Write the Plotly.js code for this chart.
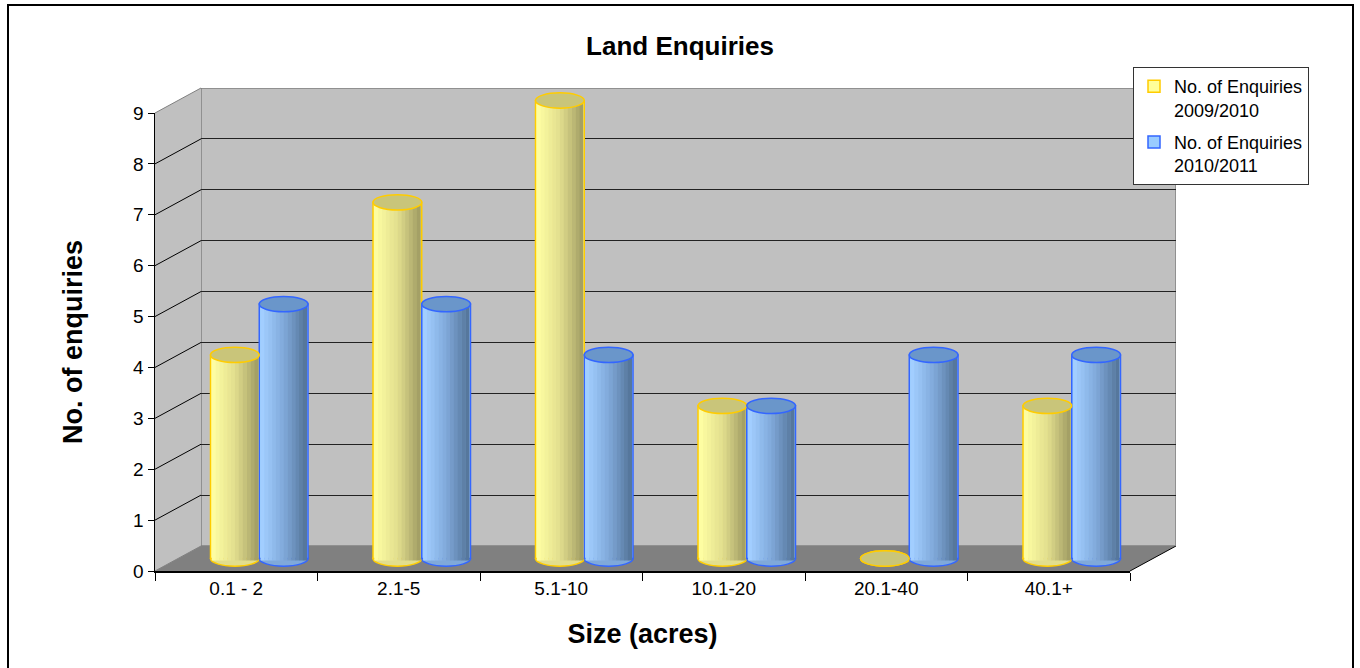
<!DOCTYPE html>
<html>
<head>
<meta charset="utf-8">
<script src="https://cdn.plot.ly/plotly-3.0.1.min.js"></script>
<style>
  html, body { margin: 0; padding: 0; background: #fff; }
  #chart { width: 1360px; height: 668px; }
</style>
</head>
<body>
<div id="chart"></div>
<script>
const sizes = ['0.1 - 2', '2.1-5', '5.1-10', '10.1-20', '20.1-40', '40.1+']
const enq0910 = [4, 7, 9, 3, 0, 3]
const enq1011 = [5, 5, 4, 3, 4, 4]
const yTicks = [0, 1, 2, 3, 4, 5, 6, 7, 8, 9]

const W = 1360
const H = 668
const FONT = '"Liberation Sans", Arial, sans-serif'

// front box of the fake 3d plot, in pixels, and the depth offset of the back wall
const FX0 = 155
const FX1 = 1130
const FY0 = 571
const FY1 = 113
const DX = 46
const DY = 25
const BARGAP = 0.4
// extra room on the bar axes so the cylinder ends are not clipped
const PAD = 0.3
const STRIPS = 12

const px = v => v / W
const py = v => 1 - v / H

const yMax = yTicks[yTicks.length - 1]
const unit = (FY0 - FY1) / yMax

// domains for a layer sitting at a given depth (0 = front, 1 = back wall)
function dom (depth, pad) {
  pad = pad || 0
  return {
    x: [px(FX0 + DX * depth), px(FX1 + DX * depth)],
    y: [py(FY0 - DY * depth + pad * unit), py(FY1 - DY * depth - pad * unit)]
  }
}
const back = dom(1)
const mid = dom(0.5, PAD)
const front = dom(0)

// left / middle / right shades of each cylinder
const YELLOW = { swatch: '#ffff99', stops: ['#fdfda2', '#e2de8e', '#a4a066'], line: '#ffcc00', cap: '#c9c57a' }
const BLUE = { swatch: '#99ccff', stops: ['#a2ceff', '#80a9da', '#56779c'], line: '#3366ff', cap: '#6a96ca' }

function hex2rgb (h) {
  return [1, 3, 5].map(k => parseInt(h.slice(k, k + 2), 16))
}
function shade (stops, t) {
  const a = t < 0.5 ? hex2rgb(stops[0]) : hex2rgb(stops[1])
  const b = t < 0.5 ? hex2rgb(stops[1]) : hex2rgb(stops[2])
  const u = t < 0.5 ? t * 2 : (t - 0.5) * 2
  return 'rgb(' + a.map((c, k) => Math.round(c + (b[k] - c) * u)).join(',') + ')'
}

const data = [
  {
    type: 'scatter', x: sizes, y: sizes.map(() => null), xaxis: 'x', yaxis: 'y',
    mode: 'none', showlegend: false, hoverinfo: 'skip'
  },
  {
    type: 'bar', x: sizes, y: enq0910, xaxis: 'x2', yaxis: 'y2',
    name: 'No. of Enquiries<br>2009/2010', legendgroup: 'a',
    marker: { color: YELLOW.swatch, line: { color: YELLOW.line, width: 1.5 } }
  },
  {
    type: 'bar', x: sizes, y: enq1011, xaxis: 'x2', yaxis: 'y2',
    name: 'No. of Enquiries<br>2010/2011', legendgroup: 'b',
    marker: { color: BLUE.swatch, line: { color: BLUE.line, width: 1.5 } }
  },
  {
    type: 'scatter', x: sizes, y: sizes.map(() => null), xaxis: 'x3', yaxis: 'y3',
    mode: 'none', showlegend: false, hoverinfo: 'skip'
  }
]

const shapes = []

// outer frame
shapes.push({
  type: 'rect', xref: 'paper', yref: 'paper',
  x0: px(8), x1: px(1353), y0: py(5), y1: py(675),
  line: { color: '#000', width: 2 }, fillcolor: 'rgba(0,0,0,0)', layer: 'below'
})

// left side wall
shapes.push({
  type: 'path', xref: 'paper', yref: 'paper', layer: 'below',
  path: `M ${front.x[0]},${front.y[0]} L ${front.x[0]},${front.y[1]} L ${back.x[0]},${back.y[1]} L ${back.x[0]},${back.y[0]} Z`,
  fillcolor: '#c0c0c0', line: { width: 0 }
})

// floor
shapes.push({
  type: 'path', xref: 'paper', yref: 'paper', layer: 'below',
  path: `M ${front.x[0]},${front.y[0]} L ${front.x[1]},${front.y[0]} L ${back.x[1]},${back.y[0]} L ${back.x[0]},${back.y[0]} Z`,
  fillcolor: '#808080', line: { width: 0 }
})
shapes.push({
  type: 'line', xref: 'paper', yref: 'paper', layer: 'below',
  x0: front.x[1], y0: front.y[0], x1: back.x[1], y1: back.y[0],
  line: { color: '#000', width: 1 }
})

// side wall grid lines, one per tick
yTicks.forEach(t => {
  const fy = front.y[0] + (front.y[1] - front.y[0]) * t / yMax
  const by = back.y[0] + (back.y[1] - back.y[0]) * t / yMax
  const edge = t === 0 || t === yMax
  shapes.push({
    type: 'line', xref: 'paper', yref: 'paper', layer: 'below',
    x0: front.x[0], y0: fy, x1: back.x[0], y1: by,
    line: { color: edge ? '#808080' : '#000', width: 1 }
  })
})

// back wall
shapes.push({
  type: 'rect', xref: 'x', yref: 'y', layer: 'below',
  x0: -0.5, x1: sizes.length - 0.5, y0: 0, y1: yMax,
  fillcolor: '#c0c0c0', line: { color: '#808080', width: 1.5 }
})

// cylinder shading and ends, placed from the data on the bar axes
const bw = (1 - BARGAP) / 2
const capH = 0.15
const inset = 0.008
function cylinders (vals, s, style) {
  vals.forEach((v, i) => {
    const x0 = i - bw + s * bw
    // bottom end, half hidden behind the bar
    shapes.push({
      type: 'circle', xref: 'x2', yref: 'y2', layer: 'below',
      x0: x0, x1: x0 + bw, y0: -capH, y1: capH,
      fillcolor: style.stops[1], line: { color: style.line, width: 1.5 }
    })
    if (v > 0) {
      const sw = (bw - 2 * inset) / STRIPS
      for (let k = 0; k < STRIPS; k++) {
        shapes.push({
          type: 'rect', xref: 'x2', yref: 'y2', layer: 'above',
          x0: x0 + inset + k * sw, x1: x0 + inset + (k + 1) * sw + 0.002,
          y0: -0.04, y1: v,
          fillcolor: shade(style.stops, k / (STRIPS - 1)), line: { width: 0 }
        })
      }
    }
    // top end
    shapes.push({
      type: 'circle', xref: 'x2', yref: 'y2', layer: 'above',
      x0: x0, x1: x0 + bw, y0: v - capH, y1: v + capH,
      fillcolor: style.cap, line: { color: style.line, width: 1.5 }
    })
  })
}
cylinders(enq0910, 0, YELLOW)
cylinders(enq1011, 1, BLUE)

const hidden = { visible: true, showgrid: false, zeroline: false, showline: false, showticklabels: false, ticks: '' }

const layout = {
  width: W,
  height: H,
  margin: { l: 0, r: 0, t: 0, b: 0 },
  paper_bgcolor: '#fff',
  plot_bgcolor: 'rgba(0,0,0,0)',
  font: { family: FONT, size: 18, color: '#000' },
  hovermode: false,
  barmode: 'group',
  bargap: BARGAP,
  bargroupgap: 0,
  title: {
    text: 'Land Enquiries',
    font: { family: FONT, size: 26, weight: 'bold', color: '#000' },
    x: 0.5, xanchor: 'center', yref: 'container', y: py(46), yanchor: 'middle'
  },
  xaxis: Object.assign({}, hidden, { type: 'category', categoryarray: sizes, domain: back.x, anchor: 'y', range: [-0.5, sizes.length - 0.5] }),
  yaxis: Object.assign({}, hidden, {
    domain: back.y, anchor: 'x', range: [0, yMax],
    showgrid: true, gridcolor: '#222', gridwidth: 1,
    tickmode: 'array', tickvals: yTicks.slice(1, -1)
  }),
  xaxis2: Object.assign({}, hidden, { type: 'category', categoryarray: sizes, domain: mid.x, anchor: 'y2', range: [-0.5, sizes.length - 0.5] }),
  yaxis2: Object.assign({}, hidden, { domain: mid.y, anchor: 'x2', range: [-PAD, yMax + PAD] }),
  xaxis3: {
    type: 'category', categoryarray: sizes, domain: front.x, anchor: 'y3',
    range: [-0.5, sizes.length - 0.5],
    showline: true, linecolor: '#000', linewidth: 1.5,
    ticks: 'outside', tickson: 'boundaries', ticklen: 8, tickcolor: '#000', tickwidth: 1,
    showgrid: false, zeroline: false,
    tickfont: { family: FONT, size: 19, color: '#000' },
    title: { text: 'Size (acres)', font: { family: FONT, size: 27, weight: 'bold', color: '#000' }, standoff: 26 }
  },
  yaxis3: {
    domain: front.y, anchor: 'x3', range: [0, yMax],
    tickmode: 'array', tickvals: yTicks,
    showline: true, linecolor: '#000', linewidth: 1.5,
    ticks: 'outside', ticklen: 6, tickcolor: '#000', tickwidth: 1,
    showgrid: false, zeroline: false,
    tickfont: { family: FONT, size: 19, color: '#000' },
    title: { text: 'No. of enquiries', font: { family: FONT, size: 27, weight: 'bold', color: '#000' }, standoff: 42 }
  },
  legend: {
    x: px(1133), y: py(67), xanchor: 'left', yanchor: 'top',
    bgcolor: '#fff', bordercolor: '#333', borderwidth: 1,
    font: { family: FONT, size: 18, color: '#000' },
    valign: 'top', tracegroupgap: 6
  },
  shapes: shapes
}

Plotly.newPlot('chart', data, layout, { displayModeBar: false, staticPlot: true })
</script>
</body>
</html>
